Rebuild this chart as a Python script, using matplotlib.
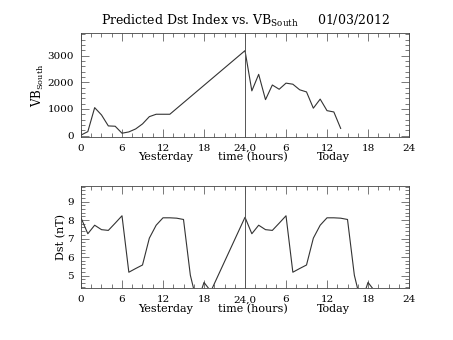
import numpy as np
import matplotlib
matplotlib.use("Agg")
import matplotlib.pyplot as plt
from matplotlib.ticker import MultipleLocator, FixedLocator
from matplotlib.transforms import blended_transform_factory

plt.rcParams['font.family'] = ['DejaVu Serif']
plt.rcParams['mathtext.fontset'] = 'dejavuserif'

# hourly values, yesterday (hours 0-23) and today (hours 24-47)
vb_hours_yday = [0, 1, 2, 3, 4, 5, 6, 7, 8, 9, 10, 11, 12, 13]
vb_yday = [20, 150, 1050, 776, 364, 352, 90, 139, 251, 439, 712, 802, 802, 802]
vb_hours_today = [24, 25, 26, 27, 28, 29, 30, 31, 32, 33, 34, 35, 36, 37, 38]
vb_today = [3190, 1680, 2300, 1350, 1900, 1740, 1970, 1930, 1720, 1640,
            1030, 1370, 937, 888, 270]

dst_hours_yday = list(range(0, 20))
dst_yday = [8.12, 7.26, 7.72, 7.48, 7.44, 7.83, 8.23, 5.18, 5.38, 5.57,
            7.02, 7.72, 8.12, 8.12, 8.10, 8.03, 5.02, 3.5, 4.63, 4.15]
dst_hours_today = list(range(24, 44))
dst_today = [8.15, 7.26, 7.72, 7.48, 7.44, 7.83, 8.23, 5.18, 5.38, 5.57,
             7.02, 7.72, 8.12, 8.12, 8.10, 8.03, 5.02, 3.5, 4.63, 4.15]

xtick_pos = [0, 6, 12, 18, 24, 30, 36, 42, 48]
xtick_lab = ['0', '6', '12', '18', '24,0', '6', '12', '18', '24']

line_col = '#333333'


def style_axis(ax, ymajor, yminor):
    ax.set_xlim(0, 48)
    ax.xaxis.set_major_locator(FixedLocator(xtick_pos))
    ax.set_xticklabels(xtick_lab)
    ax.xaxis.set_minor_locator(MultipleLocator(1.5))
    ax.yaxis.set_major_locator(MultipleLocator(ymajor))
    ax.yaxis.set_minor_locator(MultipleLocator(yminor))
    ax.tick_params(which='both', direction='in', top=True, right=True,
                   width=0.5, color='#444444', labelsize=7.5, pad=5)
    ax.tick_params(which='major', length=6)
    ax.tick_params(which='minor', length=3)
    for s in ax.spines.values():
        s.set_linewidth(0.6)
        s.set_color('#444444')
    tr = blended_transform_factory(ax.transData, ax.transAxes)
    for x, t in [(12.4, 'Yesterday'), (25.2, 'time (hours)'), (37.0, 'Today')]:
        ax.text(x, -0.2, t, transform=tr, ha='center', va='center', fontsize=8)
    ax.axvline(24, color='#555555', lw=0.7)


fig = plt.figure(figsize=(4.53, 3.40), dpi=100)

ax1 = fig.add_axes([0.1788, 0.598, 0.7241, 0.304])
ax1.plot(vb_hours_yday + vb_hours_today, vb_yday + vb_today, color=line_col, lw=0.8)
ax1.set_ylim(-40, 3840)
style_axis(ax1, 1000, 200)
ax1.set_ylabel(r'VB$_{\mathregular{South}}$', fontsize=8.5, labelpad=1)
ax1.set_title(r'Predicted Dst Index vs. VB$_{\mathregular{South}}$     01/03/2012',
              fontsize=9, pad=6)

ax2 = fig.add_axes([0.1788, 0.152, 0.7241, 0.301])
ax2.plot(dst_hours_yday + dst_hours_today, dst_yday + dst_today, color=line_col, lw=0.8)
ax2.set_ylim(4.31, 9.84)
style_axis(ax2, 1, 0.2)
ax2.set_ylabel('Dst (nT)', fontsize=8, labelpad=1)

fig.savefig('out.png', dpi=100)
